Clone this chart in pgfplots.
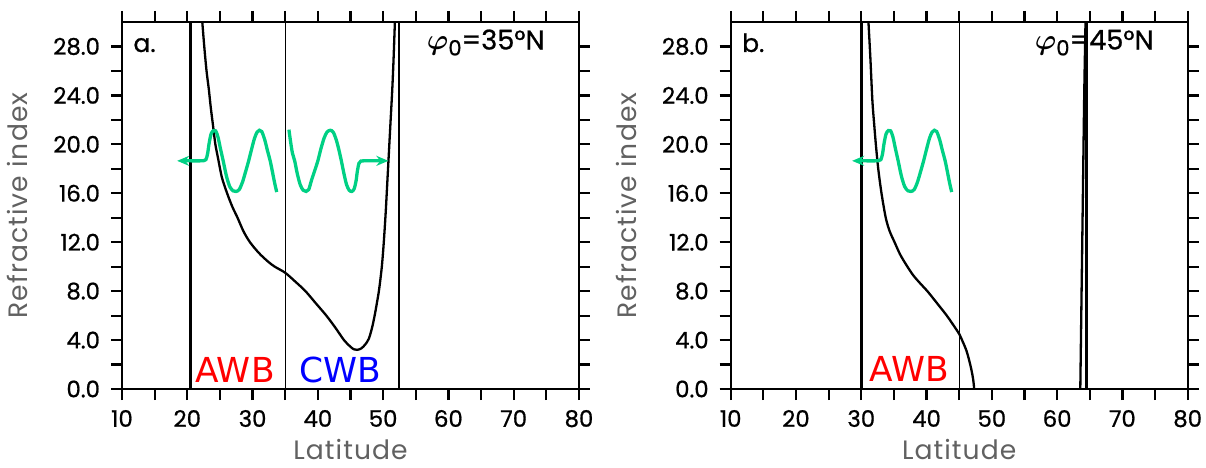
\documentclass[border=0pt]{standalone}
\usepackage{pgfplots}
\pgfplotsset{compat=1.18}
\usepackage{fontspec}
\setmainfont{Poppins}
\newfontfamily\tickfont[FakeBold=0.8]{Poppins}
\newfontfamily\labfont[LetterSpace=4]{Poppins}
\newfontfamily\dejavu{DejaVu Sans}
\usetikzlibrary{arrows.meta,calc}
\definecolor{wavegreen}{RGB}{0,208,132}
\tikzset{lab/.style={text=black!62, font=\labfont\fontsize{13.3}{15}\selectfont}}
\pgfplotsset{
  panel/.style={
    scale only axis, width=228.5pt, height=183.5pt,
    xmin=10, xmax=80, ymin=0, ymax=30,
    xtick={10,20,...,80}, ytick={0,4,...,28},
    minor x tick num=1, minor y tick num=1,
    tick align=outside,
    major tick length=5.5pt, minor tick length=5.5pt,
    every tick/.style={black, line width=1.1pt},
    axis line style={line width=1.15pt},
    /pgf/number format/assume math mode=true,
    yticklabel style={xshift=-2pt, /pgf/number format/.cd, fixed, fixed zerofill, precision=1},
    xticklabel style={yshift=-1.5pt},
    ticklabel style={font=\tickfont\fontsize{11.4}{13}\selectfont},
    clip=false,
  },
  bnd/.style={black, line width=1.35pt},
  thin/.style={black, line width=0.5pt},
  curve/.style={black, line width=1.15pt, smooth},
  wave/.style={wavegreen, line width=1.65pt, smooth},
}
\begin{document}
\begin{tikzpicture}
\path[use as bounding box] (0,0) rectangle (603pt,233.5pt);
% ---------------- panel a ----------------
\begin{axis}[panel, at={(61pt,39pt)}, anchor=south west, name=pa]
\addplot[bnd] coordinates {(20.5,0) (20.5,30)};
\addplot[bnd] coordinates {(52.45,0) (52.45,30)};
\addplot[thin] coordinates {(35,0) (35,30)};
\addplot[curve] coordinates {
(22.3,30) (22.6,28) (22.95,26) (23.3,24.5) (23.6,23.0) (23.95,21.5) (24.3,20.0)
(24.7,18.9) (25.3,17.3) (26.1,16.0) (26.9,14.9) (27.7,14.0) (28.6,12.9) (29.6,12.0)
(31.0,11.1) (32.4,10.4) (33.4,10.0) (35.0,9.5) (36.5,8.8) (38.1,8.0) (39.7,7.0)
(41.3,6.0) (42.7,5.0) (44.0,4.0) (44.9,3.5) (45.5,3.25) (46.0,3.2) (46.6,3.3)
(47.2,3.6) (47.8,4.1) (48.3,5.0) (48.7,6.0) (49.1,7.2) (49.4,8.2) (49.8,10.0)
(50.1,12.0) (50.4,14.5) (50.65,17.0) (50.9,19.5) (51.15,22.0) (51.4,24.5) (51.6,27.0) (51.8,30)};
% left wave
\addplot[wave, {Stealth[length=6pt,width=5pt]}-] coordinates {
(18.45,18.65) (20.5,18.65) (22.0,18.65) (22.5,18.66) (22.85,18.75) (23.1,19.2) (23.35,20.1)
(23.65,20.85) (24.0,21.13) (24.35,21.1) (24.7,20.6) (25.1,19.6) (25.5,18.65) (26.0,17.4)
(26.5,16.55) (27.0,16.2) (27.46,16.15) (27.95,16.3) (28.45,16.9) (28.95,17.8) (29.4,18.65)
(29.85,19.6) (30.3,20.5) (30.7,21.0) (31.05,21.15) (31.4,21.05) (31.85,20.4) (32.3,19.45)
(32.7,18.65) (33.1,17.6) (33.4,16.8) (33.7,16.1)};
% right wave
\addplot[wave, -{Stealth[length=6pt,width=5pt]}] coordinates {
(35.57,21.2) (35.8,20.3) (36.1,19.3) (36.45,18.65) (36.85,17.6) (37.3,16.7) (37.75,16.25)
(38.2,16.15) (38.6,16.3) (39.05,17.1) (39.55,17.9) (40.0,18.65) (40.45,19.6) (40.95,20.5)
(41.4,21.0) (41.9,21.15) (42.35,21.0) (42.8,20.4) (43.2,19.6) (43.6,18.65) (44.0,17.6)
(44.4,16.7) (44.8,16.25) (45.2,16.15) (45.55,16.35) (45.85,17.0) (46.05,17.8) (46.3,18.45)
(46.6,18.64) (47.0,18.65) (49.0,18.65) (50.8,18.65)};
\node[anchor=base, text=red, font=\dejavu\fontsize{17.2}{20}\selectfont] at (axis cs:27.3,0.57) {AWB};
\node[anchor=base, text=blue, font=\dejavu\fontsize{17.2}{20}\selectfont] at (axis cs:43.5,0.57) {CWB};
\node[anchor=base west, font=\tickfont\fontsize{12.5}{14}\selectfont, inner sep=0pt] at (axis cs:11.7,27.55) {a.};
\node[anchor=base east, font=\tickfont\fontsize{13.6}{16}\selectfont, inner sep=0pt] at (axis cs:74.8,27.75) {{\boldmath$\varphi$}\raisebox{-0.4ex}{\fontsize{10.5}{12}\selectfont 0}=35°N};
\node[anchor=base, lab, inner sep=0pt] at ([yshift=-35pt]rel axis cs:0.5,0) {Latitude};
\node[anchor=base, rotate=90, lab, inner sep=0pt] at ([xshift=-47pt]rel axis cs:0,0.5) {Refractive index};
\end{axis}
\foreach \i in {0,...,14} \draw[black, line width=1.1pt] ($(pa.north west)!\i/14!(pa.north east)$) -- ++(0,5.5pt);
% ---------------- panel b ----------------
\begin{axis}[panel, at={(365.35pt,39pt)}, anchor=south west, name=pb]
\addplot[bnd] coordinates {(30,0) (30,30)};
\addplot[bnd] coordinates {(64.5,0) (64.5,30)};
\addplot[curve] coordinates {(63.55,0) (63.75,8) (63.95,16) (64.15,24) (64.35,30)};
\addplot[thin] coordinates {(45,0) (45,30)};
\addplot[curve] coordinates {
(31.1,30) (31.4,27) (31.7,23.6) (32.0,21.5) (32.25,19.9) (32.6,18.0) (33.1,16.0) (33.75,14.0)
(34.35,12.9) (35.1,12.0) (35.95,11.0) (36.95,10.1) (37.95,9.3) (39.0,8.65) (40.2,7.95) (41.7,6.95)
(43.1,6.0) (44.2,5.15) (45.0,4.5) (45.6,3.8) (46.1,3.15) (46.55,2.3) (46.9,1.5) (47.15,0.75) (47.3,0)};
\addplot[wave, {Stealth[length=6pt,width=5pt]}-] coordinates {
(28.6,18.65) (30.65,18.65) (32.15,18.65) (32.65,18.66) (33.0,18.75) (33.25,19.2) (33.5,20.1)
(33.8,20.85) (34.15,21.13) (34.5,21.1) (34.85,20.6) (35.25,19.6) (35.65,18.65) (36.15,17.4)
(36.65,16.55) (37.15,16.2) (37.61,16.15) (38.1,16.3) (38.6,16.9) (39.1,17.8) (39.55,18.65)
(40.0,19.6) (40.45,20.5) (40.85,21.0) (41.2,21.15) (41.55,21.05) (42.0,20.4) (42.45,19.45)
(42.85,18.65) (43.25,17.6) (43.55,16.8) (43.85,16.1)};
\node[anchor=base, text=red, font=\dejavu\fontsize{17.2}{20}\selectfont] at (axis cs:37.35,0.65) {AWB};
\node[anchor=base west, font=\tickfont\fontsize{12.5}{14}\selectfont, inner sep=0pt] at (axis cs:11.7,27.55) {b.};
\node[anchor=base east, font=\tickfont\fontsize{13.6}{16}\selectfont, inner sep=0pt] at (axis cs:74.85,27.75) {{\boldmath$\varphi$}\raisebox{-0.4ex}{\fontsize{10.5}{12}\selectfont 0}=45°N};
\node[anchor=base, lab, inner sep=0pt] at ([yshift=-35pt]rel axis cs:0.5,0) {Latitude};
\node[anchor=base, rotate=90, lab, inner sep=0pt] at ([xshift=-47pt]rel axis cs:0,0.5) {Refractive index};
\end{axis}
\foreach \i in {0,...,14} \draw[black, line width=1.1pt] ($(pb.north west)!\i/14!(pb.north east)$) -- ++(0,5.5pt);
\end{tikzpicture}
\end{document}
